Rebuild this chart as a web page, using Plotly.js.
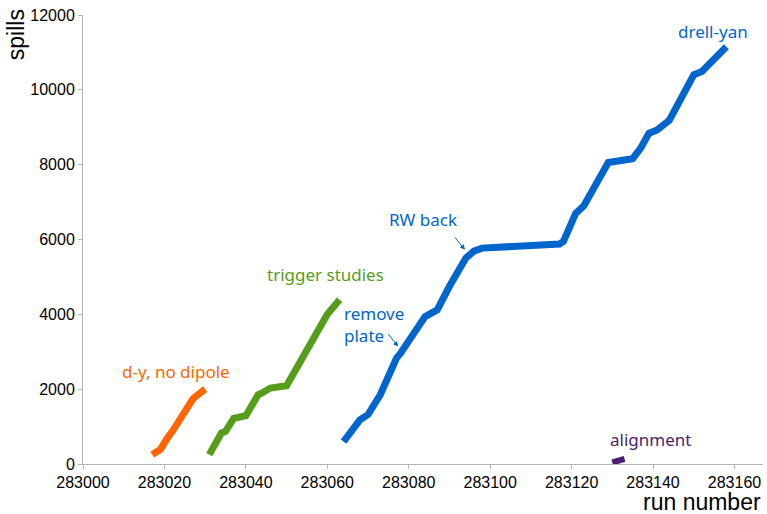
<!DOCTYPE html>
<html>
<head>
<meta charset="utf-8">
<script src="https://cdn.plot.ly/plotly-3.0.1.min.js"></script>
<style>html,body{margin:0;padding:0;background:#fff}#chart{width:767px;height:514px}</style>
</head>
<body>
<div id="chart"></div>
<script>
// d-y, no dipole
var dyRuns = [283017, 283019, 283021, 283022, 283027, 283028, 283029, 283030];
var dySpills = [250, 390, 740, 880, 1740, 1850, 1920, 2000];
// trigger studies
var trigRuns = [283031, 283034, 283035, 283037, 283040, 283043, 283044, 283046, 283050, 283059, 283060, 283063];
var trigSpills = [250, 830, 870, 1220, 1290, 1850, 1900, 2030, 2090, 3880, 4000, 4390];
// drell-yan
var drellRuns = [283064, 283067, 283068, 283070, 283072, 283073, 283077, 283078, 283084, 283087, 283090, 283092, 283094, 283096, 283098, 283117, 283118, 283121, 283123, 283129, 283135, 283137, 283139, 283141, 283144, 283150, 283152, 283154, 283156, 283158];
var drellSpills = [600, 1000, 1180, 1320, 1720, 1850, 2830, 2960, 3940, 4120, 4750, 5110, 5500, 5690, 5770, 5880, 5950, 6700, 6900, 8060, 8160, 8450, 8840, 8930, 9190, 10400, 10490, 10710, 10930, 11150];
// alignment
var alignRuns = [283130, 283133];
var alignSpills = [40, 135];

var cOrange = '#ff6600', cGreen = '#579d1c', cBlue = '#0066cc', cPurple = '#4b1f6f';
var annFont = '"Noto Sans", "Open Sans", sans-serif';
var axFont = '"Liberation Sans", Arial, sans-serif';

function line(x, y, c, w) {
  return {x: x, y: y, type: 'scatter', mode: 'lines', line: {color: c, width: w}, hoverinfo: 'skip', showlegend: false};
}
var data = [
  line(dyRuns, dySpills, cOrange, 7),
  line(trigRuns, trigSpills, cGreen, 7),
  line(drellRuns, drellSpills, cBlue, 7),
  line(alignRuns, alignSpills, cPurple, 6)
];

function txt(t, x, y, c, extra) {
  var a = {text: t, x: x, y: y, xref: 'x', yref: 'y', showarrow: false, font: {family: annFont, size: 17, color: c}};
  for (var k in extra) a[k] = extra[k];
  return a;
}
function arrow(x, y, ax, ay, c) {
  return {text: ' ', x: x, y: y, xref: 'x', yref: 'y', showarrow: true, ax: ax, ay: ay,
          arrowhead: 2, arrowsize: 1, arrowwidth: 1, arrowcolor: c, standoff: 0, startstandoff: 0, font: {size: 2}};
}

var axisCommon = {
  showline: true, linecolor: '#b3b3b3', linewidth: 1, ticks: 'outside', ticklen: 4, tickcolor: '#b3b3b3',
  showgrid: false, zeroline: false, tickformat: 'd',
  tickfont: {family: axFont, size: 16, color: '#000'}
};
var xaxis = Object.assign({}, axisCommon, {range: [283000, 283167], tick0: 283000, dtick: 20});
var yaxis = Object.assign({}, axisCommon, {range: [0, 12000], tick0: 0, dtick: 2000});

var layout = {
  width: 767, height: 514,
  margin: {l: 83, r: 4, t: 15, b: 50},
  paper_bgcolor: '#fff', plot_bgcolor: '#fff',
  xaxis: xaxis, yaxis: yaxis,
  showlegend: false,
  annotations: [
    txt('d-y, no dipole', 283022.9, 2473, cOrange),
    txt('trigger studies', 283059.6, 5056, cGreen),
    txt('remove<br>plate', 283063.7, 3720, cBlue, {xanchor: 'left', align: 'left'}),
    txt('RW back', 283083.5, 6525, cBlue),
    txt('drell-yan', 283154.6, 11560, cBlue),
    txt('alignment', 283139.3, 651, cPurple),
    arrow(283077.4, 3141, -12, -15, cBlue),
    arrow(283093.8, 5724, -12, -15, cBlue),
    {text: 'spills', xref: 'paper', yref: 'paper', x: 0, xanchor: 'center', xshift: -67, y: 0.955, yanchor: 'middle', textangle: -90,
     showarrow: false, font: {family: axFont, size: 23, color: '#000'}},
    {text: 'run number', xref: 'paper', yref: 'paper', x: 1, xanchor: 'right', y: -0.085, yanchor: 'middle',
     showarrow: false, font: {family: axFont, size: 23, color: '#000'}}
  ]
};
Plotly.newPlot('chart', data, layout, {displayModeBar: false, staticPlot: true});
</script>
</body>
</html>
